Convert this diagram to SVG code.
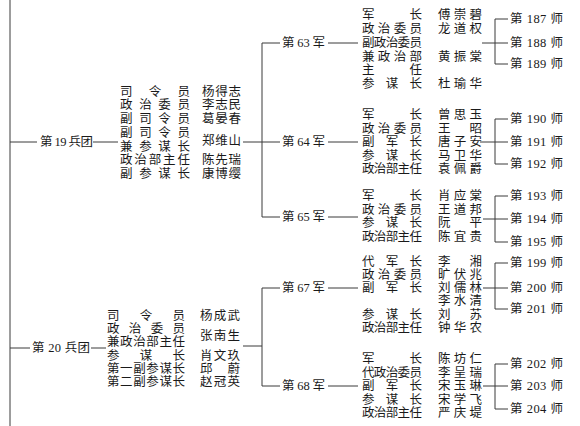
<svg xmlns="http://www.w3.org/2000/svg" width="580" height="426" viewBox="0 0 580 426">
<style>
text{font-family:"Liberation Serif","Noto Sans CJK SC",serif;font-size:12.5px;fill:#1a1a1a;dominant-baseline:central}
.c path{fill:none;stroke:#3a3a3a;stroke-width:1}
</style>
<rect width="580" height="426" fill="#fff"/>
<g class="c" id="connectors">
<path d="M10,0V426"/>
<path d="M10,142H37M93,142H118"/>
<path d="M10,348H30M91,348H106"/>
<path d="M243,142H280M262,43V217M262,43H280M262,217H280"/>
<path d="M243,346H262M262,288V386M262,288H280M262,386H280"/>
<path d="M328,43H358M328,142H358M328,217H358M328,288H358M328,386H358"/>
<path d="M495,19V64M495,19H508M495,64H508M482,43H508"/>
<path d="M495,119V164M495,119H508M495,164H508M480,142H508"/>
<path d="M495,196V242M495,196H508M495,242H508M483,219H508"/>
<path d="M495,263V309M495,263H508M495,309H508M483,288H508"/>
<path d="M495,364V409M495,364H508M495,409H508M483,386H508"/>
</g>
<g id="g19">
<text x="40" y="142" textLength="53">第 19 兵团</text>
<text x="120" y="91.5" textLength="70">司令员</text>
<text x="120" y="105.25" textLength="70">政治委员</text>
<text x="120" y="119" textLength="70">副司令员</text>
<text x="120" y="132.75" textLength="70">副司令员</text>
<text x="120" y="146.5" textLength="70">兼参谋长</text>
<text x="120" y="160.25" textLength="70">政治部主任</text>
<text x="120" y="174" textLength="70">副参谋长</text>
<text x="202" y="91.5" textLength="39">杨得志</text>
<text x="202" y="105.25" textLength="39">李志民</text>
<text x="202" y="119" textLength="39">葛晏春</text>
<text x="202" y="141" textLength="39">郑维山</text>
<text x="202" y="160.25" textLength="39">陈先瑞</text>
<text x="202" y="174" textLength="39">康博缨</text>
</g>
<g id="g20">
<text x="32" y="348" textLength="58">第 20 兵团</text>
<text x="107" y="316" textLength="78">司令员</text>
<text x="107" y="329" textLength="78">政治委员</text>
<text x="107" y="342" textLength="78">兼政治部主任</text>
<text x="107" y="355.5" textLength="78">参谋长</text>
<text x="107" y="369" textLength="78">第一副参谋长</text>
<text x="107" y="382" textLength="78">第二副参谋长</text>
<text x="200" y="316" textLength="40">杨成武</text>
<text x="200" y="335.5" textLength="40">张南生</text>
<text x="200" y="355.5" textLength="40">肖文玖</text>
<text x="200" y="369" textLength="40">邱蔚</text>
<text x="200" y="382" textLength="40">赵冠英</text>
</g>
<g id="a63">
<text x="282" y="43" textLength="43">第 63 军</text>
<text x="362" y="15" textLength="60">军长</text>
<text x="362" y="29" textLength="60">政治委员</text>
<text x="362" y="43" textLength="60">副政治委员</text>
<text x="362" y="57" textLength="60">兼政治部</text>
<text x="362" y="70" textLength="60">主任</text>
<text x="362" y="84" textLength="60">参谋长</text>
<text x="438" y="15" textLength="44">傅崇碧</text>
<text x="438" y="29" textLength="44">龙道权</text>
<text x="438" y="57" textLength="44">黄振棠</text>
<text x="438" y="84" textLength="44">杜瑜华</text>
</g>
<g id="a64">
<text x="282" y="142" textLength="43">第 64 军</text>
<text x="362" y="115" textLength="60">军长</text>
<text x="362" y="128.5" textLength="60">政治委员</text>
<text x="362" y="142" textLength="60">副军长</text>
<text x="362" y="155.5" textLength="60">参谋长</text>
<text x="362" y="169" textLength="60">政治部主任</text>
<text x="438" y="115" textLength="44">曾思玉</text>
<text x="438" y="128.5" textLength="44">王昭</text>
<text x="438" y="142" textLength="44">唐子安</text>
<text x="438" y="155.5" textLength="44">马卫华</text>
<text x="438" y="169" textLength="44">袁佩爵</text>
</g>
<g id="a65">
<text x="282" y="217" textLength="43">第 65 军</text>
<text x="362" y="196" textLength="60">军长</text>
<text x="362" y="209.5" textLength="60">政治委员</text>
<text x="362" y="223" textLength="60">参谋长</text>
<text x="362" y="236.5" textLength="60">政治部主任</text>
<text x="438" y="196" textLength="44">肖应棠</text>
<text x="438" y="209.5" textLength="44">王道邦</text>
<text x="438" y="223" textLength="44">阮平</text>
<text x="438" y="236.5" textLength="44">陈宜贵</text>
</g>
<g id="a67">
<text x="282" y="288" textLength="43">第 67 军</text>
<text x="362" y="262" textLength="60">代军长</text>
<text x="362" y="275" textLength="60">政治委员</text>
<text x="362" y="288" textLength="60">副军长</text>
<text x="362" y="315" textLength="60">参谋长</text>
<text x="362" y="328" textLength="60">政治部主任</text>
<text x="438" y="262" textLength="44">李湘</text>
<text x="438" y="275" textLength="44">旷伏兆</text>
<text x="438" y="288" textLength="44">刘儒林</text>
<text x="438" y="301" textLength="44">李水清</text>
<text x="438" y="315" textLength="44">刘苏</text>
<text x="438" y="328" textLength="44">钟华农</text>
</g>
<g id="a68">
<text x="282" y="386" textLength="43">第 68 军</text>
<text x="362" y="359" textLength="60">军长</text>
<text x="362" y="372.5" textLength="60">代政治委员</text>
<text x="362" y="386" textLength="60">副军长</text>
<text x="362" y="399.5" textLength="60">参谋长</text>
<text x="362" y="413" textLength="60">政治部主任</text>
<text x="438" y="359" textLength="44">陈坊仁</text>
<text x="438" y="372.5" textLength="44">李呈瑞</text>
<text x="438" y="386" textLength="44">宋玉琳</text>
<text x="438" y="399.5" textLength="44">宋学飞</text>
<text x="438" y="413" textLength="44">严庆堤</text>
</g>
<g id="divisions">
<text x="510" y="19" textLength="53">第 187 师</text>
<text x="510" y="43" textLength="53">第 188 师</text>
<text x="510" y="64" textLength="53">第 189 师</text>
<text x="510" y="119" textLength="53">第 190 师</text>
<text x="510" y="142" textLength="53">第 191 师</text>
<text x="510" y="164" textLength="53">第 192 师</text>
<text x="510" y="196" textLength="53">第 193 师</text>
<text x="510" y="219" textLength="53">第 194 师</text>
<text x="510" y="242" textLength="53">第 195 师</text>
<text x="510" y="263" textLength="53">第 199 师</text>
<text x="510" y="288" textLength="53">第 200 师</text>
<text x="510" y="309" textLength="53">第 201 师</text>
<text x="510" y="364" textLength="53">第 202 师</text>
<text x="510" y="386" textLength="53">第 203 师</text>
<text x="510" y="409" textLength="53">第 204 师</text>
</g>
</svg>
